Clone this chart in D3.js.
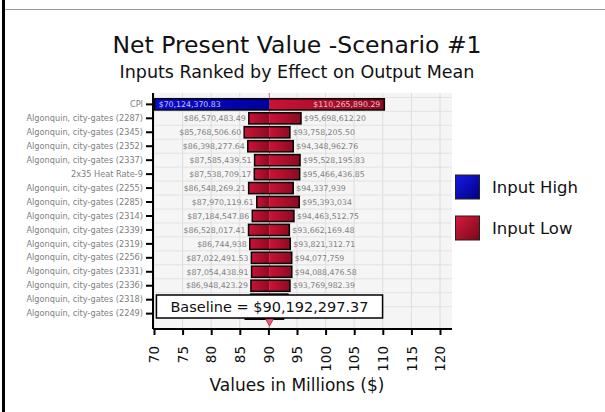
<!DOCTYPE html>
<html>
<head>
<meta charset="utf-8">
<script src="https://cdn.jsdelivr.net/npm/d3@7"></script>
<style>
  html, body { margin: 0; padding: 0; background: #fff; }
  svg { display: block; font-family: "DejaVu Sans", Verdana, sans-serif; }
</style>
</head>
<body>
<svg id="chart" width="605" height="412"></svg>
<script>
// Tornado inputs, top to bottom
const categories = [
  "CPI",
  "Algonquin, city-gates (2287)",
  "Algonquin, city-gates (2345)",
  "Algonquin, city-gates (2352)",
  "Algonquin, city-gates (2337)",
  "2x35 Heat Rate-9",
  "Algonquin, city-gates (2255)",
  "Algonquin, city-gates (2285)",
  "Algonquin, city-gates (2314)",
  "Algonquin, city-gates (2339)",
  "Algonquin, city-gates (2319)",
  "Algonquin, city-gates (2256)",
  "Algonquin, city-gates (2331)",
  "Algonquin, city-gates (2336)",
  "Algonquin, city-gates (2318)",
  "Algonquin, city-gates (2249)"
];
// Output mean at the low end and the high end of each bar ($)
const lowValues = [
  70124370.83, 86570483.49, 85768506.60, 86398277.64, 87585439.51,
  87538709.17, 86548269.21, 87970119.61, 87184547.86, 86528017.41,
  86744938, 87022491.53, 87054438.91, 86948423.29, 86900000, 85950000
];
const highValues = [
  110265890.29, 95698612.20, 93758205.50, 94348962.76, 95528195.83,
  95466436.85, 94337939, 95393034, 94463512.75, 93662169.48,
  93821312.71, 94077759, 94088476.58, 93769982.39, 93400000, 92650000
];
// Which input setting produced each end of the bar
const lowEndInput  = ["High","Low","Low","Low","Low","Low","Low","Low","Low","Low","Low","Low","Low","Low","Low","Low"];
const highEndInput = ["Low","Low","Low","Low","Low","Low","Low","Low","Low","Low","Low","Low","Low","Low","Low","Low"];
const baseline = 90192297.37;
const xTicks = [70, 75, 80, 85, 90, 95, 100, 105, 110, 115, 120];
const legendLabels = ["Input High", "Input Low"];

const svg = d3.select("#chart");

// gradients
const defs = svg.append("defs");
function grad(id, c1, c2, horizontal) {
  const g = defs.append("linearGradient").attr("id", id)
    .attr("x1", 0).attr("y1", 0)
    .attr("x2", 1).attr("y2", horizontal ? 0 : 1);
  g.append("stop").attr("offset", "0%").attr("stop-color", c1);
  g.append("stop").attr("offset", "100%").attr("stop-color", c2);
}
grad("gHigh", "#0a0ad8", "#00009a", true);
grad("gLow", "#cc1236", "#8e0a22", true);
grad("gHighSw", "#1818e8", "#000080", false);
grad("gLowSw", "#d81a3e", "#780818", false);
const fillFor = k => k === "High" ? "url(#gHigh)" : "url(#gLow)";

// frame lines
svg.append("rect").attr("x", 2).attr("y", 0).attr("width", 3).attr("height", 412).attr("fill", "#000");
svg.append("line").attr("x1", 5).attr("x2", 605).attr("y1", 9.5).attr("y2", 9.5)
  .attr("stroke", "#9a9a9a").attr("stroke-width", 1);

// titles
svg.append("text").attr("x", 297).attr("y", 53).attr("text-anchor", "middle")
  .attr("font-size", 23.5).attr("fill", "#111").text("Net Present Value -Scenario #1");
svg.append("text").attr("x", 297).attr("y", 78).attr("text-anchor", "middle")
  .attr("font-size", 17.5).attr("fill", "#111").text("Inputs Ranked by Effect on Output Mean");

// scales
const plot = { left: 153, right: 452, top: 93, bottom: 329 };
const x = d3.scaleLinear().domain([70, 120]).range([154, 440]);
const y = d3.scaleBand().domain(categories).range([96, 322]).padding(0.2);
const mil = v => v / 1e6;

// plot background + grid
svg.append("rect").attr("x", plot.left).attr("y", plot.top)
  .attr("width", plot.right - plot.left).attr("height", plot.bottom - plot.top)
  .attr("fill", "#f5f5f5");
svg.append("g").selectAll("line").data(xTicks).join("line")
  .attr("x1", d => x(d)).attr("x2", d => x(d))
  .attr("y1", plot.top).attr("y2", plot.bottom)
  .attr("stroke", "#dcdcdc").attr("stroke-width", 1);
svg.append("g").selectAll("line").data(categories).join("line")
  .attr("x1", plot.left).attr("x2", plot.right)
  .attr("y1", d => y(d) - y.step() * y.paddingInner() / 2)
  .attr("y2", d => y(d) - y.step() * y.paddingInner() / 2)
  .attr("stroke", "#e2e2e2").attr("stroke-width", 1);

// baseline marker line
const bx = x(mil(baseline));
svg.append("line").attr("x1", bx).attr("x2", bx).attr("y1", plot.top).attr("y2", plot.bottom)
  .attr("stroke", "#f07a8a").attr("stroke-width", 1);

// bars
const rows = categories.map((c, i) => ({
  c, lo: lowValues[i], hi: highValues[i], loIn: lowEndInput[i], hiIn: highEndInput[i], i
}));
const bars = svg.append("g");
rows.forEach(r => {
  const yy = y(r.c), h = y.bandwidth();
  bars.append("rect").attr("x", x(mil(r.lo))).attr("y", yy)
    .attr("width", bx - x(mil(r.lo))).attr("height", h).attr("fill", fillFor(r.loIn));
  bars.append("rect").attr("x", bx).attr("y", yy)
    .attr("width", x(mil(r.hi)) - bx).attr("height", h).attr("fill", fillFor(r.hiIn));
  bars.append("rect").attr("x", x(mil(r.lo))).attr("y", yy)
    .attr("width", x(mil(r.hi)) - x(mil(r.lo))).attr("height", h)
    .attr("fill", "none").attr("stroke", "#000").attr("stroke-width", 1.5);
});

// baseline callout box position (drawn last, over the bottom rows)
const boxTop = 295, boxH = 23;

// value labels (rows sitting under the callout box are covered, so skipped)
const fmt = v => {
  const cents = Math.round(v * 100) % 100;
  return cents === 0 ? d3.format("$,.0f")(v) : d3.format("$,.2f")(v);
};
const lab = svg.append("g").attr("font-size", 7.8);
rows.filter(r => y(r.c) + y.bandwidth() < boxTop).forEach(r => {
  const cy = y(r.c) + y.bandwidth() / 2;
  const inside = r.i === 0;
  lab.append("text")
    .attr("x", inside ? x(mil(r.lo)) + 4 : x(mil(r.lo)) - 3).attr("y", cy)
    .attr("dy", "0.35em").attr("text-anchor", inside ? "start" : "end")
    .attr("fill", inside ? "#c8c8e8" : "#808080").text(fmt(r.lo));
  lab.append("text")
    .attr("x", inside ? x(mil(r.hi)) - 4 : x(mil(r.hi)) + 3).attr("y", cy)
    .attr("dy", "0.35em").attr("text-anchor", inside ? "end" : "start")
    .attr("fill", inside ? "#e8c0c8" : "#808080").text(fmt(r.hi));
});

// y axis
const yAxis = svg.append("g").attr("transform", `translate(${plot.left},0)`)
  .call(d3.axisLeft(y).tickSize(7).tickPadding(3));
yAxis.select(".domain").attr("stroke", "#000").attr("stroke-width", 2)
  .attr("d", `M0,${plot.top}V${plot.bottom}`);
yAxis.selectAll(".tick line").attr("stroke", "#000").attr("stroke-width", 2);
yAxis.selectAll(".tick text").attr("font-size", 8.2).attr("fill", "#808080")
  .attr("font-family", "DejaVu Sans, sans-serif");

// x axis
const xAxis = svg.append("g").attr("transform", `translate(0,${plot.bottom})`)
  .call(d3.axisBottom(x).tickValues(xTicks).tickSize(6).tickFormat(d3.format("d")));
xAxis.select(".domain").attr("stroke", "#000").attr("stroke-width", 2)
  .attr("d", `M${plot.left},0H${plot.right}`);
xAxis.selectAll(".tick line").attr("stroke", "#000").attr("stroke-width", 2);
xAxis.selectAll(".tick text")
  .attr("font-size", 13.5).attr("fill", "#111").attr("font-family", "DejaVu Sans, sans-serif")
  .attr("transform", "rotate(-90)")
  .attr("text-anchor", "end").attr("x", -17).attr("y", 0).attr("dy", "0.35em");

svg.append("text").attr("x", 297).attr("y", 391).attr("text-anchor", "middle")
  .attr("font-size", 17).attr("fill", "#111").text("Values in Millions ($)");

// baseline callout
const bText = "Baseline = " + fmt(baseline);
svg.append("path")
  .attr("d", `M${bx - 4},${plot.bottom - 10}L${bx + 4},${plot.bottom - 10}L${bx},${plot.bottom - 3}Z`)
  .attr("fill", "#e8607a").attr("stroke", "#a02040").attr("stroke-width", 0.8);
const box = svg.append("g");
const bt = box.append("text").attr("x", bx).attr("y", boxTop + boxH / 2).attr("dy", "0.35em")
  .attr("text-anchor", "middle").attr("font-size", 14.5).attr("fill", "#111").text(bText);
const bb = bt.node().getBBox();
box.insert("rect", "text").attr("x", bb.x - 14).attr("y", boxTop)
  .attr("width", bb.width + 28).attr("height", boxH)
  .attr("fill", "#fff").attr("stroke", "#000").attr("stroke-width", 1.5);

// legend
const leg = svg.append("g");
legendLabels.forEach((t, i) => {
  const ly = 175 + i * 41;
  leg.append("rect").attr("x", 455.5).attr("y", ly).attr("width", 24).attr("height", 24)
    .attr("fill", i === 0 ? "url(#gHighSw)" : "url(#gLowSw)").attr("stroke", "#222").attr("stroke-width", 1);
  leg.append("text").attr("x", 492).attr("y", ly + 12).attr("dy", "0.35em")
    .attr("font-size", 16.5).attr("fill", "#111").text(t);
});
</script>
</body>
</html>
